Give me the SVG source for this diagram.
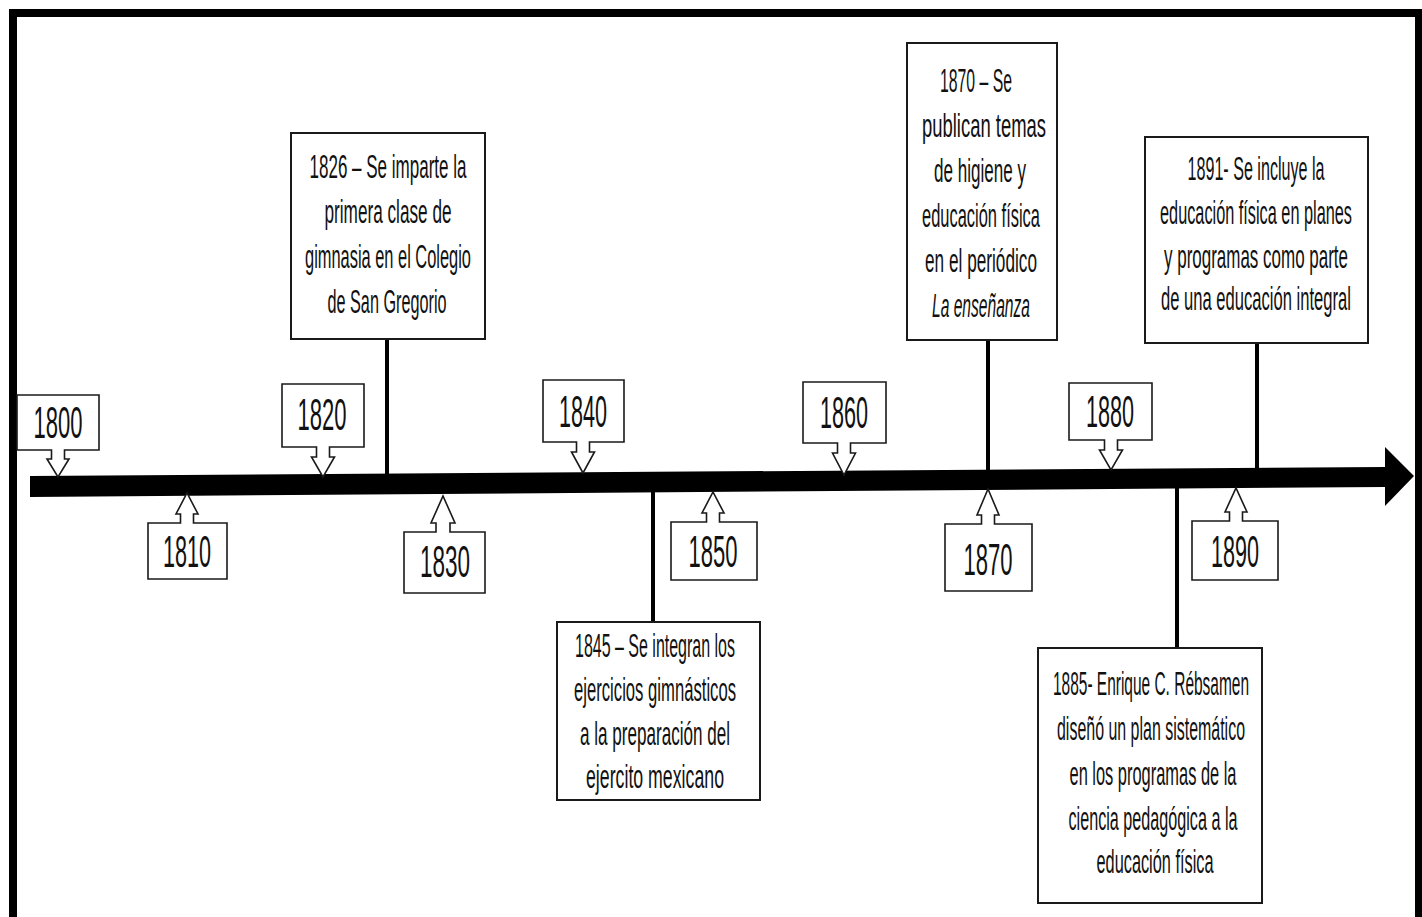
<svg xmlns="http://www.w3.org/2000/svg" width="1422" height="917" viewBox="0 0 1422 917">
<style>
.frame{fill:none;stroke:#000;stroke-width:8}
.bar{fill:#000}
.co{fill:#fff;stroke:#1a1a1a;stroke-width:1.6;stroke-linejoin:miter}
.box{fill:#fff;stroke:#1a1a1a;stroke-width:2}
.conn{stroke:#000;stroke-width:4}
.yr{font-family:"Liberation Sans",Arial,sans-serif;font-size:44px;fill:#111;text-anchor:middle}
.tx{font-family:"Liberation Sans",Arial,sans-serif;font-size:34px;fill:#111;text-anchor:middle}
.it{font-style:italic}
</style>
<rect x="0" y="0" width="1422" height="917" fill="#fff"/>
<rect class="frame" x="13" y="13" width="1406" height="1000"/>

<g id="timeline">
<polygon class="bar" points="30,476 1385,467 1385,447 1414,476 1385,506 1385,487 30,497"/>
</g>

<g id="connectors">
<line class="conn" x1="387" y1="339" x2="387" y2="474"/>
<line class="conn" x1="653" y1="490" x2="653" y2="622"/>
<line class="conn" x1="988" y1="340" x2="988" y2="471"/>
<line class="conn" x1="1177" y1="487" x2="1177" y2="648"/>
<line class="conn" x1="1257" y1="343" x2="1257" y2="468"/>
</g>

<g id="y1800">
<path class="co" d="M17 395 H99 V450 H64.5 V459 H69 L58 477 L47 459 H51.5 V450 H17 Z"/>
<text class="yr" transform="translate(58 0) scale(0.5 1)" x="0" y="438" textLength="98" lengthAdjust="spacingAndGlyphs">1800</text>
</g>
<g id="y1810">
<path class="co" d="M148 579 H227 V523 H193.5 V514 H198 L187 493 L176 514 H180.5 V523 H148 Z"/>
<text class="yr" transform="translate(187 0) scale(0.5 1)" x="0" y="567" textLength="96" lengthAdjust="spacingAndGlyphs">1810</text>
</g>
<g id="y1820">
<path class="co" d="M282 384 H364 V447 H329.5 V457 H334.5 L323 477 L311.5 457 H316.5 V447 H282 Z"/>
<text class="yr" transform="translate(322 0) scale(0.5 1)" x="0" y="430" textLength="98" lengthAdjust="spacingAndGlyphs">1820</text>
</g>
<g id="y1830">
<path class="co" d="M404 593 H485 V532 H450 V523 H455 L443 496 L431 523 H436 V532 H404 Z"/>
<text class="yr" transform="translate(445 0) scale(0.5 1)" x="0" y="577" textLength="100" lengthAdjust="spacingAndGlyphs">1830</text>
</g>
<g id="y1840">
<path class="co" d="M543 380 H624 V442 H589.5 V452 H594.5 L583 473 L571.5 452 H576.5 V442 H543 Z"/>
<text class="yr" transform="translate(583 0) scale(0.5 1)" x="0" y="427" textLength="96" lengthAdjust="spacingAndGlyphs">1840</text>
</g>
<g id="y1850">
<path class="co" d="M671 580 H757 V522 H719.5 V513 H724 L713 492 L702 513 H706.5 V522 H671 Z"/>
<text class="yr" transform="translate(713 0) scale(0.5 1)" x="0" y="567" textLength="98" lengthAdjust="spacingAndGlyphs">1850</text>
</g>
<g id="y1860">
<path class="co" d="M803 382 H886 V443 H850.5 V453 H855.5 L844 475 L832.5 453 H837.5 V443 H803 Z"/>
<text class="yr" transform="translate(844 0) scale(0.5 1)" x="0" y="428" textLength="96" lengthAdjust="spacingAndGlyphs">1860</text>
</g>
<g id="y1870">
<path class="co" d="M945 591 H1032 V524 H994.5 V515 H999 L988 489 L977 515 H981.5 V524 H945 Z"/>
<text class="yr" transform="translate(988 0) scale(0.5 1)" x="0" y="575" textLength="98" lengthAdjust="spacingAndGlyphs">1870</text>
</g>
<g id="y1880">
<path class="co" d="M1069 383 H1152 V440 H1117.5 V450 H1122.5 L1111 470 L1099.5 450 H1104.5 V440 H1069 Z"/>
<text class="yr" transform="translate(1110 0) scale(0.5 1)" x="0" y="427" textLength="96" lengthAdjust="spacingAndGlyphs">1880</text>
</g>
<g id="y1890">
<path class="co" d="M1192 580 H1278 V521 H1242.5 V512 H1247 L1236 488 L1225 512 H1229.5 V521 H1192 Z"/>
<text class="yr" transform="translate(1235 0) scale(0.5 1)" x="0" y="567" textLength="96" lengthAdjust="spacingAndGlyphs">1890</text>
</g>

<g id="e1826">
<rect class="box" x="291" y="133" width="194" height="206"/>
<text class="tx" transform="translate(388 0) scale(0.5 1)" x="0" y="178" textLength="314" lengthAdjust="spacingAndGlyphs">1826 – Se imparte la</text>
<text class="tx" transform="translate(388 0) scale(0.5 1)" x="0" y="223" textLength="254" lengthAdjust="spacingAndGlyphs">primera clase de</text>
<text class="tx" transform="translate(388 0) scale(0.5 1)" x="0" y="268" textLength="332" lengthAdjust="spacingAndGlyphs">gimnasia en el Colegio</text>
<text class="tx" transform="translate(387 0) scale(0.5 1)" x="0" y="313" textLength="238" lengthAdjust="spacingAndGlyphs">de San Gregorio</text>
</g>

<g id="e1845">
<rect class="box" x="557" y="622" width="203" height="178"/>
<text class="tx" transform="translate(655 0) scale(0.5 1)" x="0" y="657" textLength="320" lengthAdjust="spacingAndGlyphs">1845 – Se integran los</text>
<text class="tx" transform="translate(655 0) scale(0.5 1)" x="0" y="701" textLength="324" lengthAdjust="spacingAndGlyphs">ejercicios gimnásticos</text>
<text class="tx" transform="translate(655 0) scale(0.5 1)" x="0" y="745" textLength="300" lengthAdjust="spacingAndGlyphs">a la preparación del</text>
<text class="tx" transform="translate(655 0) scale(0.5 1)" x="0" y="788" textLength="276" lengthAdjust="spacingAndGlyphs">ejercito mexicano</text>
</g>

<g id="e1870">
<rect class="box" x="907" y="43" width="150" height="297"/>
<text class="tx" transform="translate(976 0) scale(0.5 1)" x="0" y="92" textLength="144" lengthAdjust="spacingAndGlyphs">1870 – Se</text>
<text class="tx" transform="translate(984 0) scale(0.5 1)" x="0" y="137" textLength="248" lengthAdjust="spacingAndGlyphs">publican temas</text>
<text class="tx" transform="translate(980 0) scale(0.5 1)" x="0" y="182" textLength="184" lengthAdjust="spacingAndGlyphs">de higiene y</text>
<text class="tx" transform="translate(981 0) scale(0.5 1)" x="0" y="227" textLength="236" lengthAdjust="spacingAndGlyphs">educación física</text>
<text class="tx" transform="translate(981 0) scale(0.5 1)" x="0" y="272" textLength="224" lengthAdjust="spacingAndGlyphs">en el periódico</text>
<text class="tx it" transform="translate(981 0) scale(0.5 1)" x="0" y="317" textLength="196" lengthAdjust="spacingAndGlyphs">La enseñanza</text>
</g>

<g id="e1885">
<rect class="box" x="1038" y="648" width="224" height="255"/>
<text class="tx" transform="translate(1151 0) scale(0.5 1)" x="0" y="695" textLength="392" lengthAdjust="spacingAndGlyphs">1885- Enrique C. Rébsamen</text>
<text class="tx" transform="translate(1151 0) scale(0.5 1)" x="0" y="740" textLength="376" lengthAdjust="spacingAndGlyphs">diseñó un plan sistemático</text>
<text class="tx" transform="translate(1153 0) scale(0.5 1)" x="0" y="785" textLength="334" lengthAdjust="spacingAndGlyphs">en los programas de la</text>
<text class="tx" transform="translate(1153 0) scale(0.5 1)" x="0" y="830" textLength="338" lengthAdjust="spacingAndGlyphs">ciencia pedagógica a la</text>
<text class="tx" transform="translate(1155 0) scale(0.5 1)" x="0" y="873" textLength="234" lengthAdjust="spacingAndGlyphs">educación física</text>
</g>

<g id="e1891">
<rect class="box" x="1145" y="137" width="223" height="206"/>
<text class="tx" transform="translate(1256 0) scale(0.5 1)" x="0" y="180" textLength="274" lengthAdjust="spacingAndGlyphs">1891- Se incluye la</text>
<text class="tx" transform="translate(1256 0) scale(0.5 1)" x="0" y="224" textLength="384" lengthAdjust="spacingAndGlyphs">educación física en planes</text>
<text class="tx" transform="translate(1256 0) scale(0.5 1)" x="0" y="268" textLength="368" lengthAdjust="spacingAndGlyphs">y programas como parte</text>
<text class="tx" transform="translate(1256 0) scale(0.5 1)" x="0" y="310" textLength="380" lengthAdjust="spacingAndGlyphs">de una educación integral</text>
</g>
</svg>
